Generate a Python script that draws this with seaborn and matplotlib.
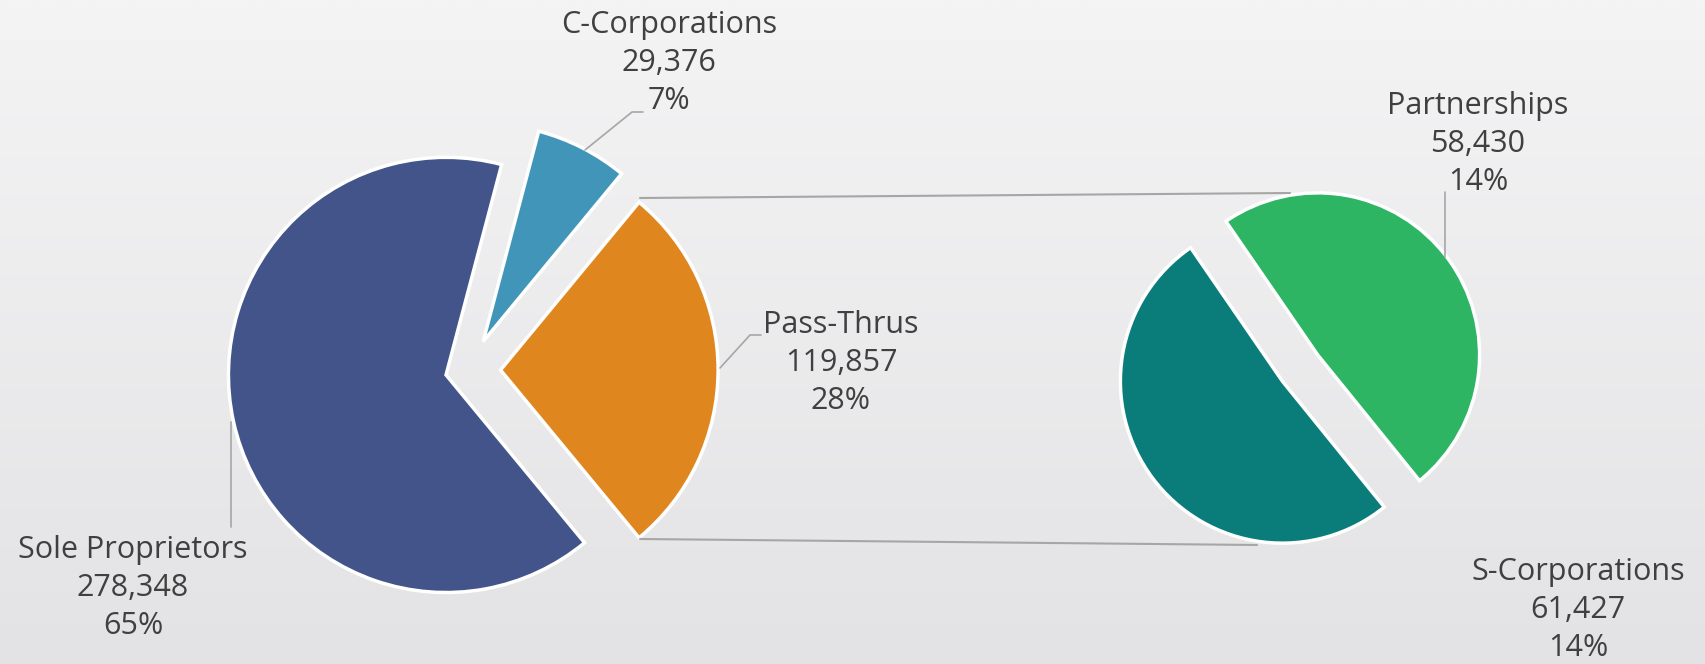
import numpy as np
import matplotlib
matplotlib.use("Agg")
import matplotlib.pyplot as plt
from matplotlib.colors import LinearSegmentedColormap
import seaborn as sns

# main pie (Pass-Thrus is the slice broken out into the second pie)
main_names = ["Pass-Thrus", "C-Corporations", "Sole Proprietors"]
main_values = [119857, 29376, 278348]
main_pct = [28, 7, 65]
main_colors = ["#e0861f", "#4095b8", "#42548a"]

# second pie: breakdown of Pass-Thrus
sub_names = ["Partnerships", "S-Corporations"]
sub_values = [58430, 61427]
sub_pct = [14, 14]
sub_colors = ["#2db564", "#0a7d7a"]

sns.set_theme(style="white")
plt.rcParams["font.family"] = ["Open Sans", "DejaVu Sans"]

W, H = 1706, 664
fig = plt.figure(figsize=(W / 100, H / 100), dpi=100)
ax = fig.add_axes([0, 0, 1, 1])

# background gradient
bg = LinearSegmentedColormap.from_list("bg", ["#f4f4f5", "#e3e3e5"])
ax.imshow(np.linspace(0, 1, 256).reshape(-1, 1), extent=[0, W, 0, H],
          cmap=bg, aspect="auto", zorder=0)


def Y(y):
    # screen y (from top) -> data y
    return H - y


wedge = dict(edgecolor="white", linewidth=2.5)

# main pie, every slice pulled out a little
r1 = 217.6
c1 = (468.5, Y(370))
start1 = -main_values[0] / sum(main_values) * 360 / 2
ax.pie(main_values, colors=main_colors, center=c1, radius=r1,
       startangle=start1, explode=[32, 32, 23], wedgeprops=wedge, frame=True)

# second pie
r2 = 162
c2 = (1300, Y(368))
ax.pie(sub_values, colors=sub_colors, center=c2, radius=r2,
       startangle=-51, explode=[22, 22], wedgeprops=wedge, frame=True)

# connector lines between the pies
line_kw = dict(color="#a6a6a6", lw=1.5, zorder=1)
ax.plot([640, 1290], [Y(198), Y(193)], **line_kw)
ax.plot([640, 1257], [Y(539), Y(545)], **line_kw)

# leader lines
lead_kw = dict(color="#a6a6a6", lw=1.2, zorder=3)
ax.plot([585, 632, 643], [Y(150), Y(112), Y(112)], **lead_kw)
ax.plot([720, 750, 761], [Y(368), Y(335), Y(335)], **lead_kw)
ax.plot([231, 231], [Y(422), Y(527)], **lead_kw)
ax.plot([1445, 1445], [Y(257), Y(192)], **lead_kw)

# data labels
label_pos = {
    "Pass-Thrus": (841, 363),
    "C-Corporations": (669, 63),
    "Sole Proprietors": (133, 588),
    "Partnerships": (1478, 144),
    "S-Corporations": (1578, 610),
}
names = main_names + sub_names
values = main_values + sub_values
pcts = main_pct + sub_pct
for n, v, p in zip(names, values, pcts):
    x, y = label_pos[n]
    ax.text(x, Y(y), f"{n}\n{v:,}\n{p}%", ha="center", va="center",
            fontsize=22, color="#404040", linespacing=1.36, zorder=4)

ax.set_xlim(0, W)
ax.set_ylim(0, H)
ax.set_axis_off()

fig.savefig("out.png", dpi=100)
